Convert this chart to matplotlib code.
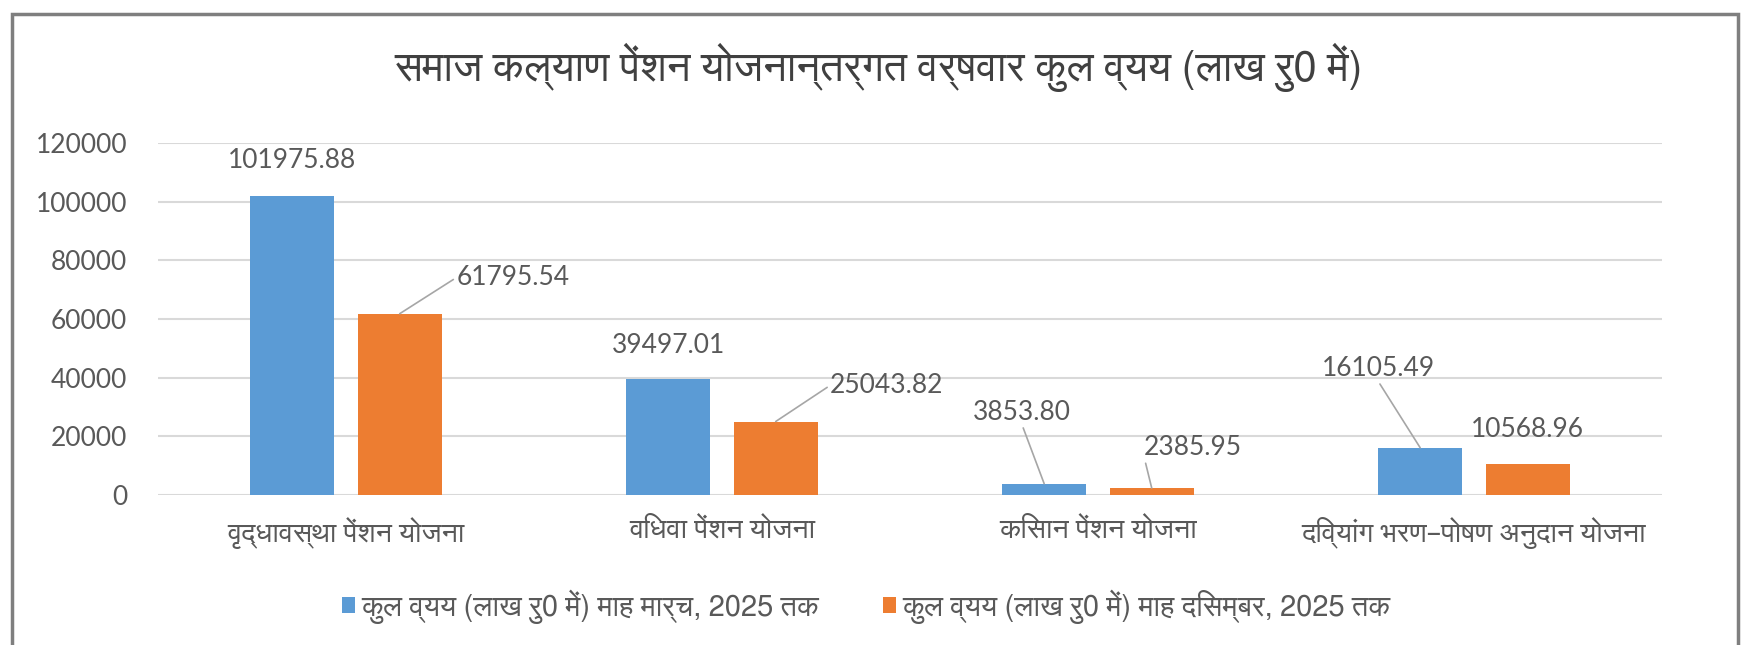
#!/usr/bin/env python3

"""
samaj kalyan pension chart - year wise total expenditure
"""

import numpy as np
import matplotlib
matplotlib.use("Agg")
import matplotlib.pyplot as plt
from matplotlib import font_manager
from matplotlib.patches import Rectangle

# data
TITLE = "समाज कल्याण पेंशन योजनान्तर्गत वर्षवार कुल व्यय (लाख रु0 में)"
CATEGORIES = ["वृद्धावस्था पेंशन योजना", "विधवा पेंशन योजना",
              "किसान पेंशन योजना", "दिव्यांग भरण–पोषण अनुदान योजना"]
SERIES_NAMES = ["कुल व्यय (लाख रु0 में) माह मार्च, 2025 तक",
                "कुल व्यय (लाख रु0 में) माह दिसम्बर, 2025 तक"]
MARCH_2025 = [101975.88, 39497.01, 3853.80, 16105.49]
DEC_2025 = [61795.54, 25043.82, 2385.95, 10568.96]
Y_TICKS = [0, 20000, 40000, 60000, 80000, 100000, 120000]

# label offsets (pixels from bar top), leader line or not
BLUE_OFFS = [(0, 35, False), (0, 34, False), (-22, 71, True), (-42, 79, True)]
ORANGE_OFFS = [(113, 36, True), (111, 36, True), (41, 40, True), (0, 34, False)]

BLUE = "#5B9BD5"
ORANGE = "#ED7D31"
TXT = "#595959"


def find_devanagari():
    # look for installed fonts with devanagari glyphs, proportional ones first
    try:
        from fontTools.ttLib import TTFont
    except ImportError:
        return None
    found = []
    for path in sorted(font_manager.findSystemFonts()):
        try:
            f = TTFont(path, fontNumber=0, lazy=True)
            cmap = f.getBestCmap()
            if not cmap or 0x0915 not in cmap:
                continue
            mono = bool(f["post"].isFixedPitch) or "mono" in path.lower()
            bold = "bold" in path.lower() or "oblique" in path.lower() or "italic" in path.lower()
            sans = "sans" in path.lower()
            found.append((mono, bold, not sans, path))
        except Exception:
            continue
    if not found:
        return None
    found.sort()
    return found[0][3]


hindi = find_devanagari()
families = []
if hindi:
    font_manager.fontManager.addfont(hindi)
    families.append(font_manager.FontProperties(fname=hindi).get_name())
plt.rcParams["font.family"] = families + ["Lato", "DejaVu Sans"]
NUM_FONT = ["Lato", "DejaVu Sans"]


if __name__ == "__main__":
    fig = plt.figure(figsize=(17.43, 6.45), dpi=100)
    ax = fig.add_axes([0.0906, 0.2326, 0.8629, 0.5457])

    x = np.arange(len(CATEGORIES))
    w = 0.223
    off = 0.143
    b1 = ax.bar(x - off, MARCH_2025, w, color=BLUE, label=SERIES_NAMES[0], zorder=3)
    b2 = ax.bar(x + off, DEC_2025, w, color=ORANGE, label=SERIES_NAMES[1], zorder=3)

    ax.set_xlim(-0.5, len(CATEGORIES) - 0.5)
    ax.set_ylim(0, 120000)
    ax.set_yticks(Y_TICKS)
    ax.set_yticklabels([str(t) for t in Y_TICKS], family=NUM_FONT, fontsize=19, color=TXT)
    ax.set_xticks(x)
    ax.set_xticklabels(CATEGORIES, fontsize=20.5, color=TXT)
    ax.tick_params(length=0)
    ax.tick_params(axis="y", pad=22)
    ax.tick_params(axis="x", pad=16)
    ax.grid(axis="y", color="#D9D9D9", lw=1.5, zorder=0)
    for s in ax.spines.values():
        s.set_visible(False)

    # data labels, some pushed off with a leader line
    for bars, vals, offs in [(b1, MARCH_2025, BLUE_OFFS), (b2, DEC_2025, ORANGE_OFFS)]:
        for bar, v, (dx, dy, lead) in zip(bars, vals, offs):
            cx = bar.get_x() + bar.get_width() / 2
            kw = {}
            if lead:
                rp = (0.0, 0.5) if dx > 60 else ((0.0, 0.2) if dx > 0 else (0.5, 0.0))
                kw["arrowprops"] = dict(arrowstyle="-", color="#A6A6A6", lw=1.2,
                                        shrinkA=0, shrinkB=0, relpos=rp)
            ax.annotate("{:.2f}".format(v), xy=(cx, v), xytext=(dx, dy),
                        textcoords="offset pixels", ha="center", va="center",
                        family=NUM_FONT, fontsize=19, color=TXT, zorder=4, **kw)

    fig.text(0.504, 0.896, TITLE, ha="center", va="center", fontsize=30, color="#404040")

    fig.legend(handles=[b1, b2], loc="center", bbox_to_anchor=(0.497, 0.06),
               ncol=2, frameon=False, fontsize=21, handlelength=0.45,
               handleheight=0.45, handletextpad=0.2, columnspacing=2.2,
               labelcolor=TXT)

    # outer chart frame
    fig.patches.append(Rectangle((12 / 1743, -0.02), 1726 / 1743, 1.02 - 14 / 645,
                                 transform=fig.transFigure, fill=False,
                                 edgecolor="#7F7F7F", lw=2.5))

    fig.savefig("out.png", dpi=100)
